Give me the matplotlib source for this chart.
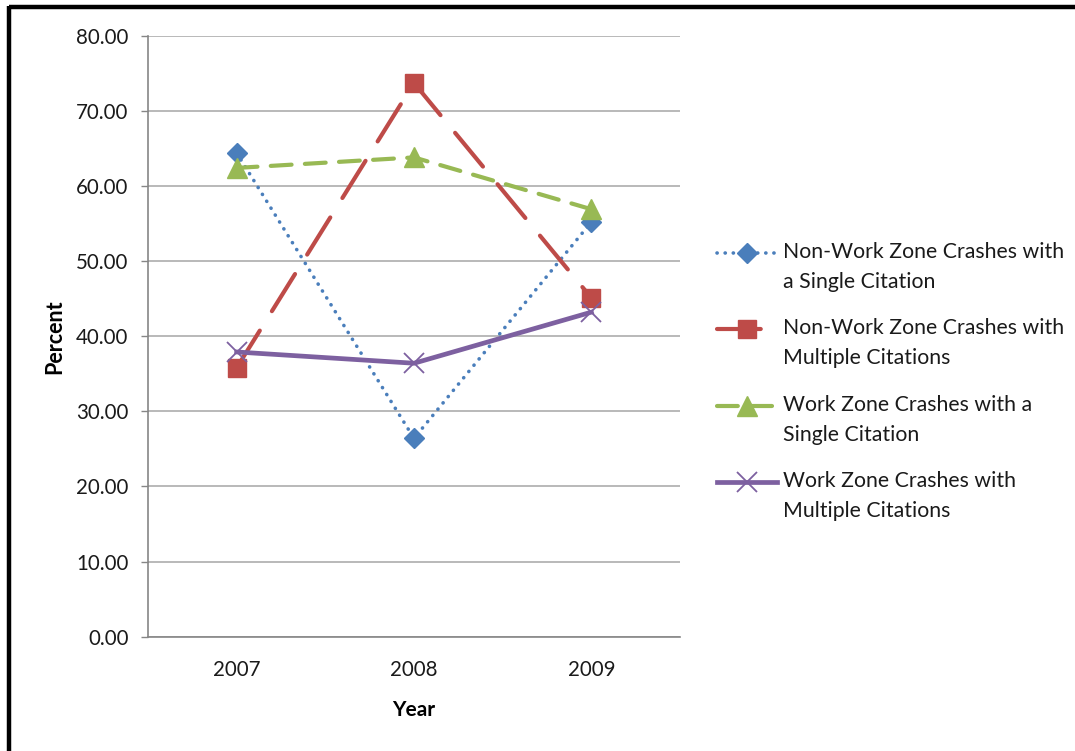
import matplotlib
matplotlib.use("Agg")
import matplotlib.pyplot as plt
import numpy as np
from matplotlib.lines import Line2D
from matplotlib.legend_handler import HandlerLine2D

years = ["2007", "2008", "2009"]
nwz_single = [64.4, 26.4, 55.2]
nwz_multi = [35.8, 73.7, 45.1]
wz_single = [62.4, 63.8, 56.9]
wz_multi = [37.9, 36.4, 43.2]
labels = [
    "Non-Work Zone Crashes with\na Single Citation",
    "Non-Work Zone Crashes with\nMultiple Citations",
    "Work Zone Crashes with a\nSingle Citation",
    "Work Zone Crashes with\nMultiple Citations",
]
yticks = [0, 10, 20, 30, 40, 50, 60, 70, 80]

plt.rcParams['font.family'] = ['Lato', 'DejaVu Sans']


class TopHandler(HandlerLine2D):
    """Place the legend handle at the level of the first text line."""
    def __init__(self, dy=10.5, **kw):
        super().__init__(**kw)
        self.dy = dy

    def create_artists(self, legend, orig_handle, xdescent, ydescent,
                       width, height, fontsize, trans):
        arts = super().create_artists(legend, orig_handle, xdescent, ydescent,
                                      width, height, fontsize, trans)
        for a in arts:
            a.set_ydata(np.asarray(a.get_ydata(), dtype=float) + self.dy)
        return arts


fig = plt.figure(figsize=(10.75, 7.51), dpi=100)
ax = fig.add_axes([148/1075, 1-636.7/751, (680-148)/1075, 601/751])

x = list(range(len(years)))
blue, red, green, purple = "#4A7EBB", "#BE4B48", "#98B954", "#7D60A0"

l1, = ax.plot(x, nwz_single, color=blue, lw=2.6, linestyle=(0, (0.05, 2.2)),
              dash_capstyle='round', marker='D', ms=10, mec=blue, mfc=blue, zorder=3)
l2, = ax.plot(x, nwz_multi, color=red, lw=3.0, linestyle=(0, (10.5, 5.5)),
              dash_capstyle='round', marker='s', ms=13, mec=red, mfc=red, zorder=3)
l3, = ax.plot(x, wz_single, color=green, lw=3.0, linestyle=(0, (5.0, 3.2)),
              dash_capstyle='round', marker='^', ms=15, mec=green, mfc=green, zorder=3)
l4, = ax.plot(x, wz_multi, color=purple, lw=3.4, linestyle='-',
              marker='x', ms=14, mew=1.3, mec=purple, zorder=3)

ax.set_xlim(-0.5, 2.5)
ax.set_ylim(0, 80)
ax.set_yticks(yticks)
ax.set_yticklabels([f"{v:.2f}" for v in yticks], fontsize=14.8, color="#1a1a1a")
ax.set_xticks(x)
ax.set_xticklabels(years, fontsize=14.8, color="#1a1a1a")
ax.tick_params(axis='y', length=5, width=1, color="#868686", pad=9)
ax.tick_params(axis='x', length=0, pad=17)
ax.yaxis.grid(True, color="#a6a6a6", lw=1.1)
ax.set_axisbelow(True)
for s in ['top', 'right']:
    ax.spines[s].set_visible(False)
for s in ['left', 'bottom']:
    ax.spines[s].set_color("#868686")
    ax.spines[s].set_linewidth(1.2)

ax.set_ylabel("Percent", fontsize=15.5, fontweight='bold', va='center')
ax.yaxis.set_label_coords((55-148)/532, 0.5)
ax.set_xlabel("Year", fontsize=15, fontweight='bold', va='center')
ax.xaxis.set_label_coords(0.5, (636.7-710)/601)

hm = {h: TopHandler() for h in (l1, l2, l3, l4)}
leg = fig.legend([l1, l2, l3, l4], labels, loc='upper left',
                 bbox_to_anchor=(717/1075, 1-242/751), frameon=False,
                 fontsize=15.3, handlelength=2.8, handletextpad=0.3,
                 labelspacing=1.25, borderpad=0, borderaxespad=0,
                 handler_map=hm)
for t in leg.get_texts():
    t.set_linespacing(1.62)
    t.set_color("#1a1a1a")

# frame border (top and left)
fig.add_artist(Line2D([9/1075, 1.0], [1-7/751, 1-7/751], color='black', lw=3.2,
                      transform=fig.transFigure, solid_capstyle='butt'))
fig.add_artist(Line2D([9/1075, 9/1075], [1-5.5/751, 0.0], color='black', lw=3.2,
                      transform=fig.transFigure, solid_capstyle='butt'))

fig.savefig("out.png", dpi=100, facecolor='white')
